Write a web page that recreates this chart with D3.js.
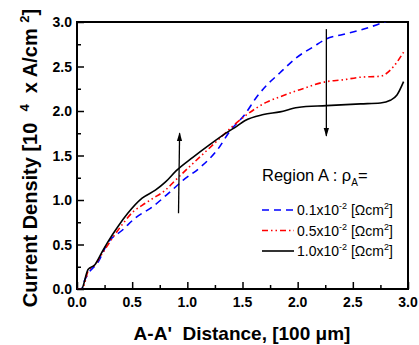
<!DOCTYPE html>
<html>
<head>
<meta charset="utf-8">
<script src="https://cdn.jsdelivr.net/npm/d3@7"></script>
<style>
  body { margin: 0; background: #fff; }
  text { font-family: Arial, "Liberation Sans", sans-serif; }
</style>
</head>
<body>
<div id="chart"></div>
<script>
// values
var xBlack = [0, 0.04, 0.1, 0.16, 0.22, 0.28, 0.37, 0.46, 0.59, 0.71, 0.8, 0.9, 1.05, 1.2, 1.36, 1.45, 1.52, 1.69, 1.84, 2.0, 2.26, 2.57, 2.75, 2.84, 2.9, 2.96];
var yBlack = [0, 0, 0.22, 0.27, 0.4, 0.53, 0.7, 0.85, 1.02, 1.11, 1.2, 1.33, 1.48, 1.62, 1.76, 1.83, 1.89, 1.96, 1.99, 2.04, 2.06, 2.08, 2.09, 2.12, 2.18, 2.33];

var xRed = [0, 0.05, 0.07, 0.1, 0.16, 0.24, 0.32, 0.42, 0.51, 0.59, 0.69, 0.8, 0.89, 1.05, 1.18, 1.36, 1.42, 1.54, 1.72, 1.84, 2.02, 2.26, 2.41, 2.57, 2.75, 2.84, 2.96];
var yRed = [0, 0, 0.07, 0.2, 0.27, 0.42, 0.57, 0.74, 0.87, 0.94, 1.02, 1.11, 1.22, 1.41, 1.56, 1.77, 1.84, 1.96, 2.1, 2.16, 2.24, 2.33, 2.35, 2.38, 2.39, 2.46, 2.66];

var xBlue = [0, 0.04, 0.07, 0.1, 0.19, 0.28, 0.41, 0.53, 0.68, 0.86, 0.96, 1.12, 1.27, 1.39, 1.52, 1.63, 1.72, 1.84, 1.99, 2.14, 2.26, 2.41, 2.57, 2.72, 2.85];
var yBlue = [0, 0, 0.1, 0.17, 0.3, 0.52, 0.66, 0.8, 0.92, 1.11, 1.22, 1.37, 1.56, 1.78, 1.96, 2.16, 2.29, 2.43, 2.6, 2.72, 2.81, 2.86, 2.91, 2.97, 3.03];

var xTicks = [0, 0.5, 1.0, 1.5, 2.0, 2.5, 3.0];
var yTicks = [0, 0.5, 1.0, 1.5, 2.0, 2.5, 3.0];
var legendLabels = ["0.1x10", "0.5x10", "1.0x10"];

var width = 419, height = 345,
    margin = {top: 22, right: 11, bottom: 56, left: 77};

var svg = d3.select("#chart").append("svg")
  .attr("width", width)
  .attr("height", height);

var x = d3.scaleLinear().domain([0, 3]).range([margin.left, width - margin.right]);
var y = d3.scaleLinear().domain([0, 3]).range([height - margin.bottom, margin.top]);

svg.append("clipPath").attr("id", "plot")
  .append("rect")
  .attr("x", x(0)).attr("y", y(3))
  .attr("width", x(3) - x(0)).attr("height", y(0) - y(3));

// ticks, pointing inward
var xAxis = svg.append("g")
  .attr("transform", "translate(0," + y(0) + ")")
  .call(d3.axisBottom(x).tickValues(d3.range(0, 3.01, 0.25)).tickSize(-6).tickFormat(""));
xAxis.selectAll(".tick line").attr("y2", function(d){ return (d * 4) % 2 == 0 ? -7 : -4; });
var yAxis = svg.append("g")
  .attr("transform", "translate(" + x(0) + ",0)")
  .call(d3.axisLeft(y).tickValues(d3.range(0, 3.01, 0.25)).tickSize(-6).tickFormat(""));
yAxis.selectAll(".tick line").attr("x2", function(d){ return (d * 4) % 2 == 0 ? 7 : 4; });
svg.selectAll(".domain").remove();
svg.selectAll(".tick line").attr("stroke", "#000").attr("stroke-width", 1.5);

svg.append("rect")
  .attr("x", x(0)).attr("y", y(3))
  .attr("width", x(3) - x(0)).attr("height", y(0) - y(3))
  .attr("fill", "none").attr("stroke", "#000").attr("stroke-width", 2);

svg.selectAll(".xl").data(xTicks).enter().append("text")
  .attr("x", function(d){ return x(d); })
  .attr("y", y(0) + 18)
  .attr("text-anchor", "middle")
  .attr("font-size", 14).attr("font-weight", "bold")
  .text(function(d){ return d.toFixed(1); });

svg.selectAll(".yl").data(yTicks).enter().append("text")
  .attr("x", x(0) - 5)
  .attr("y", function(d){ return y(d) + 5; })
  .attr("text-anchor", "end")
  .attr("font-size", 14).attr("font-weight", "bold")
  .text(function(d){ return d.toFixed(1); });

// curves
var line = d3.line()
  .curve(d3.curveMonotoneX)
  .x(function(d){ return x(d[0]); })
  .y(function(d){ return y(d[1]); });
var series = [
  {xs: xBlue, ys: yBlue, color: "#0000ff", dash: "7,5"},
  {xs: xRed, ys: yRed, color: "#ff0000", dash: "6,3,1.5,3,1.5,3"},
  {xs: xBlack, ys: yBlack, color: "#000", dash: null}
];
var g = svg.append("g").attr("clip-path", "url(#plot)");
series.forEach(function(s){
  g.append("path")
    .datum(d3.zip(s.xs, s.ys))
    .attr("d", line)
    .attr("fill", "none")
    .attr("stroke", s.color)
    .attr("stroke-width", 1.6)
    .attr("stroke-dasharray", s.dash);
});

// arrows
svg.append("defs").append("marker")
  .attr("id", "head").attr("viewBox", "0 0 10 10")
  .attr("refX", 9).attr("refY", 5)
  .attr("markerWidth", 7).attr("markerHeight", 7)
  .attr("orient", "auto-start-reverse")
  .append("path").attr("d", "M0,2 L10,5 L0,8 Z").attr("fill", "#000");

svg.append("line")
  .attr("x1", x(0.92)).attr("y1", y(0.85))
  .attr("x2", x(0.93)).attr("y2", y(1.75))
  .attr("stroke", "#000").attr("stroke-width", 1.3)
  .attr("marker-end", "url(#head)");
svg.append("line")
  .attr("x1", x(2.26)).attr("y1", y(2.92))
  .attr("x2", x(2.26)).attr("y2", y(1.72))
  .attr("stroke", "#000").attr("stroke-width", 1.3)
  .attr("marker-end", "url(#head)");

// legend
var lg = svg.append("g");
var rt = lg.append("text").attr("x", 262).attr("y", 181).attr("font-size", 16.5);
rt.append("tspan").text("Region A : ρ");
rt.append("tspan").attr("font-size", 10).attr("dy", 5).text("A");
rt.append("tspan").attr("dy", -5).text("=");

series.forEach(function(s, i){
  var yy = 210 + i * 20.5;
  lg.append("line")
    .attr("x1", 262).attr("x2", 294).attr("y1", yy).attr("y2", yy)
    .attr("stroke", s.color).attr("stroke-width", 1.6)
    .attr("stroke-dasharray", s.dash);
  var t = lg.append("text").attr("x", 297).attr("y", yy + 5).attr("font-size", 14);
  t.append("tspan").text(legendLabels[i]);
  t.append("tspan").attr("font-size", 9).attr("dy", -6).text("-2");
  t.append("tspan").attr("dy", 6).text(" [Ωcm");
  t.append("tspan").attr("font-size", 9).attr("dy", -6).text("2");
  t.append("tspan").attr("dy", 6).text("]");
});

// axis titles
svg.append("text")
  .attr("x", 242).attr("y", 340)
  .attr("text-anchor", "middle")
  .attr("font-size", 19).attr("font-weight", "bold")
  .attr("xml:space", "preserve")
  .text("A-A'  Distance, [100 μm]");

var yt = svg.append("text")
  .attr("transform", "translate(37,158) rotate(-90)")
  .attr("text-anchor", "middle")
  .attr("font-size", 20).attr("font-weight", "bold")
  .attr("xml:space", "preserve");
yt.append("tspan").text("Current Density [10  ");
yt.append("tspan").attr("font-size", 13).attr("dy", -8).text("4");
yt.append("tspan").attr("dy", 8).text("  x A/cm ");
yt.append("tspan").attr("font-size", 13).attr("dy", -8).text("2");
yt.append("tspan").attr("dy", 8).text("]");
</script>
</body>
</html>
